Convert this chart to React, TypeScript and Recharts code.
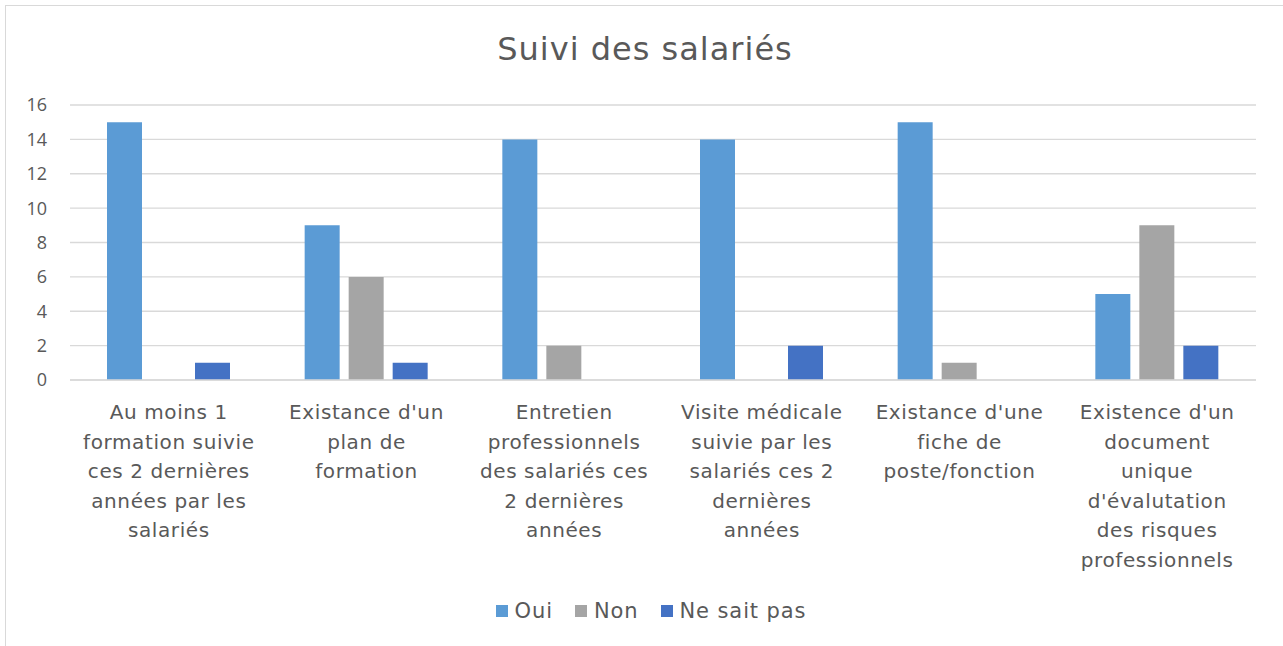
import { BarChart, Bar, XAxis, YAxis, CartesianGrid, Legend } from 'recharts';

const categories = [
  'Au moins 1\nformation suivie\nces 2 dernières\nannées par les\nsalariés',
  "Existance d'un\nplan de\nformation",
  'Entretien\nprofessionnels\ndes salariés ces\n2 dernières\nannées',
  'Visite médicale\nsuivie par les\nsalariés ces 2\ndernières\nannées',
  "Existance d'une\nfiche de\nposte/fonction",
  "Existence d'un\ndocument\nunique\nd'évalutation\ndes risques\nprofessionnels",
];
const oui = [15, 9, 14, 14, 15, 5];
const non = [0, 6, 2, 0, 1, 9];
const neSaitPas = [1, 1, 0, 2, 0, 2];
const yTicks = [0, 2, 4, 6, 8, 10, 12, 14, 16];

const series = [
  { key: 'oui', name: 'Oui', color: '#5B9BD5' },
  { key: 'non', name: 'Non', color: '#A5A5A5' },
  { key: 'nsp', name: 'Ne sait pas', color: '#4472C4' },
];

const data = categories.map((c, i) => ({
  name: c,
  oui: oui[i],
  non: non[i] || null,
  nsp: neSaitPas[i] || null,
}));

const FONT = '"DejaVu Sans", sans-serif';
const TEXT = '#595959';

const CategoryTick = (props: any) => {
  const { x, y, payload } = props;
  const lines = String(payload.value).split('\n');
  return (
    <text x={x} y={y} textAnchor="middle" fill={TEXT} fontFamily={FONT} fontSize={20} letterSpacing={0.6}>
      {lines.map((l, i) => (
        <tspan key={i} x={x} dy={i === 0 ? 37 : 29.6}>
          {l}
        </tspan>
      ))}
    </text>
  );
};

const LegendContent = () => (
  <div
    style={{
      display: 'flex',
      justifyContent: 'center',
      alignItems: 'center',
      fontFamily: FONT,
      fontSize: 21,
      letterSpacing: 0.9,
      color: TEXT,
      marginTop: 3,
      marginLeft: 46,
    }}
  >
    {series.map((s) => (
      <div key={s.key} style={{ display: 'flex', alignItems: 'center', margin: '0 11px' }}>
        <span style={{ width: 12, height: 12, background: s.color, display: 'inline-block', marginRight: 7 }} />
        <span>{s.name}</span>
      </div>
    ))}
  </div>
);

export default function App() {
  return (
    <div style={{ position: 'fixed', left: 0, top: 0, width: 1283, height: 646, background: '#fff', overflow: 'hidden' }}>
      <div
        style={{
          position: 'absolute',
          left: 5,
          top: 5,
          width: 1300,
          height: 700,
          border: '1.5px solid #d9d9d9',
        }}
      />
      <div
        style={{
          position: 'absolute',
          left: 0,
          top: 30,
          width: 1290,
          textAlign: 'center',
          fontFamily: FONT,
          fontSize: 32,
          letterSpacing: 1,
          color: TEXT,
        }}
      >
        Suivi des salariés
      </div>
      <div style={{ position: 'absolute', left: 0, top: 0 }}>
        <BarChart
          width={1283}
          height={646}
          data={data}
          margin={{ top: 105, right: 27, left: 0, bottom: 10 }}
          barSize={35}
          barGap={9}
        >
          <CartesianGrid horizontal vertical={false} stroke="#d9d9d9" strokeWidth={1.3} />
          <XAxis
            dataKey="name"
            interval={0}
            tick={<CategoryTick />}
            tickLine={false}
            tickSize={0}
            axisLine={{ stroke: '#d9d9d9', strokeWidth: 1.3 }}
            height={216}
          />
          <YAxis
            domain={[0, 16]}
            ticks={yTicks}
            width={70}
            axisLine={false}
            tickLine={false}
            tickSize={0}
            tickMargin={23}
            tick={{ fill: TEXT, fontSize: 18, fontFamily: '"Open Sans", sans-serif' }}
          />
          <Legend verticalAlign="bottom" height={40} content={<LegendContent />} />
          {series.map((s) => (
            <Bar key={s.key} dataKey={s.key} name={s.name} fill={s.color} isAnimationActive={false} />
          ))}
        </BarChart>
      </div>
    </div>
  );
}
